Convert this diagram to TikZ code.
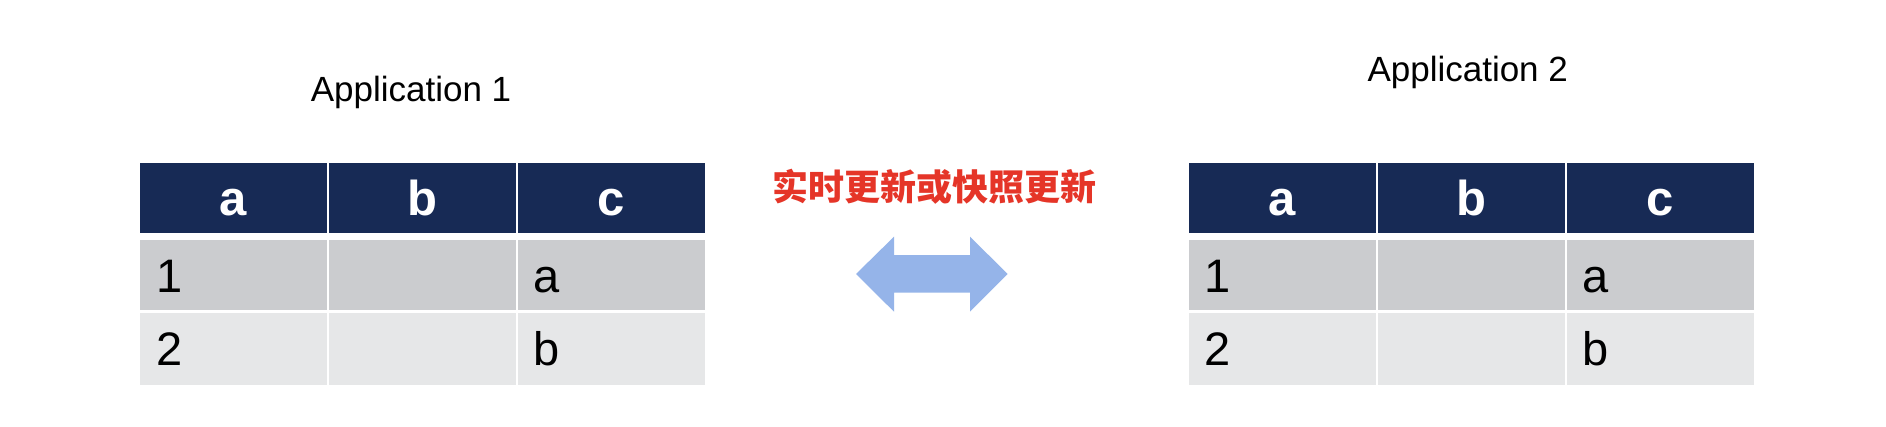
\documentclass[tikz,border=0pt]{standalone}
\usepackage{fontspec}
\usepackage{xcolor}
\setmainfont{Liberation Sans}
\newfontfamily\cjk{Noto Sans CJK SC}
\definecolor{hdrblue}{HTML}{172A55}
\definecolor{rowdark}{HTML}{CBCCCF}
\definecolor{rowlight}{HTML}{E6E7E8}
\definecolor{syncblue}{HTML}{95B4E9}
\definecolor{syncred}{HTML}{E53528}

\begin{document}
\begin{tikzpicture}[x=1pt,y=-1pt]
\tikzstyle{every node}+=[inner sep=0pt]
\tikzstyle{hdr}=[fill=hdrblue, text=white, minimum width=187pt, minimum height=70pt, text height=35pt, text depth=0pt, font=\bfseries\fontsize{49}{49}\selectfont]
\tikzstyle{cell}=[minimum height=70pt, text width=155pt, inner xsep=16pt, align=left, text height=34pt, text depth=0pt, font=\fontsize{47}{47}\selectfont]
\tikzstyle{apptitle}=[anchor=base, font=\fontsize{35}{35}\selectfont]
\useasboundingbox [fill=white] (0,0) rectangle (1886,426);
% Application 1
\node [apptitle] (app1) at (411,101.7) {Application 1};
\node [hdr] (l-ha) at (233.5,197.5) {a};
\node [hdr] (l-hb) at (422.3,197.5) {b};
\node [hdr] (l-hc) at (611.4,197.5) {c};
\node [cell, fill=rowdark] (l-1a) at (233.5,275) {1};
\node [cell, fill=rowdark] (l-1b) at (422.3,275) {};
\node [cell, fill=rowdark] (l-1c) at (611.4,275) {a};
\node [cell, fill=rowlight, minimum height=72pt] (l-2a) at (233.5,348.5) {2};
\node [cell, fill=rowlight, minimum height=72pt] (l-2b) at (422.3,348.5) {};
\node [cell, fill=rowlight, minimum height=72pt] (l-2c) at (611.4,348.5) {b};
% Application 2
\node [apptitle] (app2) at (1467.7,81.7) {Application 2};
\node [hdr] (r-ha) at (1282.1,197.5) {a};
\node [hdr] (r-hb) at (1471,197.5) {b};
\node [hdr] (r-hc) at (1660,197.5) {c};
\node [cell, fill=rowdark] (r-1a) at (1282.1,275) {1};
\node [cell, fill=rowdark] (r-1b) at (1471,275) {};
\node [cell, fill=rowdark] (r-1c) at (1660,275) {a};
\node [cell, fill=rowlight, minimum height=72pt] (r-2a) at (1282.1,348.5) {2};
\node [cell, fill=rowlight, minimum height=72pt] (r-2b) at (1471,348.5) {};
\node [cell, fill=rowlight, minimum height=72pt] (r-2c) at (1660,348.5) {b};
% sync
\node [anchor=base, text=syncred, font=\cjk\bfseries\fontsize{36}{36}\selectfont] (sync) at (934.5,200.8) {实时更新或快照更新};
\fill [syncblue] (856,274) -- (894,236.7) -- (894,255) -- (970,255) -- (970,236.7) -- (1007.7,274)
  -- (970,311.7) -- (970,292.7) -- (894,292.7) -- (894,311.7) -- cycle;
\end{tikzpicture}
\end{document}
